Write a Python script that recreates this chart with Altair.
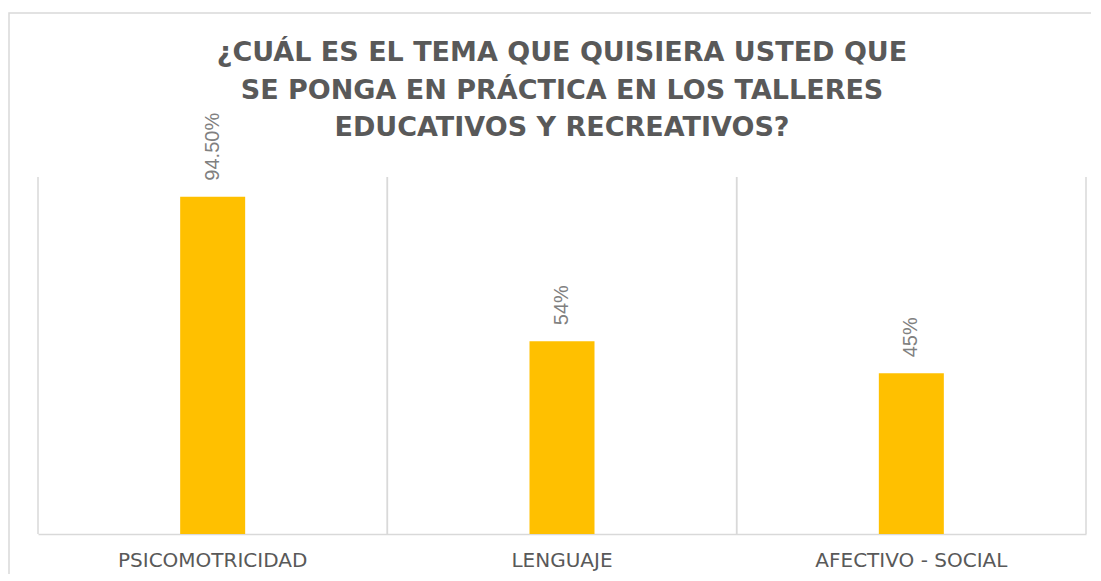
import altair as alt
import pandas as pd

categories = ["PSICOMOTRICIDAD", "LENGUAJE", "AFECTIVO - SOCIAL"]
values = [94.5, 54, 45]
labels = ["94.50%", "54%", "45%"]
title_lines = [
    "¿CUÁL ES EL TEMA QUE QUISIERA USTED QUE",
    "SE PONGA EN PRÁCTICA EN LOS TALLERES",
    "EDUCATIVOS Y RECREATIVOS?",
]

df = pd.DataFrame({"cat": categories, "val": values, "lab": labels})

W, H = 1048, 357
GRID = "#d9d9d9"

xaxis = alt.Axis(
    grid=False,
    ticks=False,
    domainColor=GRID,
    domainWidth=1.5,
    labelFontSize=20,
    labelColor="#595959",
    labelFont="DejaVu Sans",
    labelPadding=16,
    labelAngle=0,
    labelLimit=400,
    bandPosition=0.5,
)
xscale = alt.Scale(paddingInner=0, paddingOuter=0)
xenc = alt.X("cat:N", sort=categories, title=None, scale=xscale, axis=xaxis)
yenc = alt.Y("val:Q", scale=alt.Scale(domain=[0, 100]), axis=None)

border = alt.Chart(pd.DataFrame({"d": [0]})).mark_rect(
    fillOpacity=0, stroke=GRID, strokeWidth=1.5
).encode(
    x=alt.value(-29), x2=alt.value(W + 60), y=alt.value(-164), y2=alt.value(H + 100)
)

bars = alt.Chart(df).mark_bar(size=65, color="#FFC000").encode(x=xenc, y=yenc)

left_edges = alt.Chart(df).mark_rule(color=GRID, strokeWidth=1.5).encode(
    x=alt.X("cat:N", sort=categories, title=None, scale=xscale, axis=xaxis, bandPosition=0)
)
right_edges = alt.Chart(df).mark_rule(color=GRID, strokeWidth=1.5).encode(
    x=alt.X("cat:N", sort=categories, title=None, scale=xscale, axis=xaxis, bandPosition=1)
)

text = alt.Chart(df).mark_text(
    angle=270,
    align="left",
    baseline="middle",
    dx=16,
    fontSize=20,
    color="#808080",
    font="Liberation Sans",
).encode(x=xenc, y=yenc, text="lab:N")

chart = (
    alt.layer(border, bars, left_edges, right_edges, text)
    .properties(
        width=W,
        height=H,
        autosize=alt.AutoSizeParams(type="none"),
        padding={"left": 30, "top": 169, "right": 5, "bottom": 40},
        background="white",
        title=alt.TitleParams(
            text=title_lines,
            fontSize=27,
            fontWeight="bold",
            font="DejaVu Sans",
            color="#595959",
            anchor="middle",
            lineHeight=37.5,
            offset=-130,
        ),
    )
    .configure_view(stroke=None)
)

chart.save("out.html", embed_options={"renderer": "svg", "actions": False})
